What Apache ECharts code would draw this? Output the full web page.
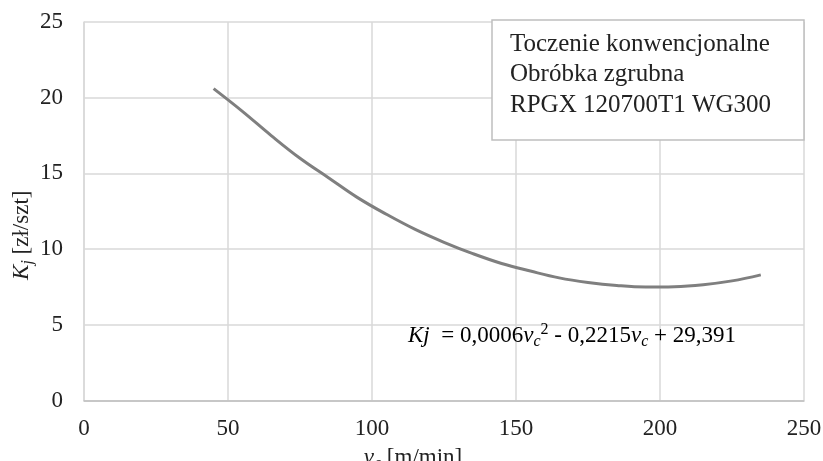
<!DOCTYPE html>
<html>
<head>
<meta charset="utf-8">
<script src="https://cdn.jsdelivr.net/npm/echarts@6/dist/echarts.min.js"></script>
<style>html,body{margin:0;padding:0;background:#fff}#c{width:823px;height:461px}</style>
</head>
<body>
<div id="c"></div>
<script>
const vc = [45, 55, 65, 75, 85, 95, 105, 115, 125, 135, 145, 155, 165, 175, 185, 195, 205, 215, 225, 235];
const kj = [20.6, 19.1, 17.5, 16.0, 14.7, 13.4, 12.3, 11.3, 10.45, 9.7, 9.05, 8.55, 8.1, 7.8, 7.6, 7.5, 7.52, 7.65, 7.9, 8.3];
const xTicks = [0, 50, 100, 150, 200, 250];
const yTicks = [0, 5, 10, 15, 20, 25];
const legendLines = ['Toczenie konwencjonalne', 'Obróbka zgrubna', 'RPGX 120700T1 WG300'];

const FONT = 'Liberation Serif';
const chart = echarts.init(document.getElementById('c'), null, {renderer: 'canvas'});
const data = vc.map((v, i) => [v, kj[i]]);
chart.setOption({
  animation: false,
  backgroundColor: '#fff',
  textStyle: {fontFamily: FONT, color: '#222'},
  grid: {left: 84, right: 19, top: 22, bottom: 60.5, containLabel: false, outerBoundsMode: 'none'},
  xAxis: {
    type: 'value', min: xTicks[0], max: xTicks[xTicks.length - 1], interval: 50,
    axisLine: {show: true, lineStyle: {color: '#bfbfbf', width: 1.5}},
    axisTick: {show: false},
    splitLine: {show: true, lineStyle: {color: '#d9d9d9', width: 1.5}},
    axisLabel: {fontFamily: FONT, fontSize: 23, color: '#222', margin: 17},
    name: '{i|v}{sub|c} [m/min]',
    nameLocation: 'middle', nameGap: 43, nameMoveOverlap: false,
    nameTextStyle: {
      fontFamily: FONT, fontSize: 23, color: '#222', padding: [0, 62, 0, 0],
      rich: {
        i: {fontFamily: FONT, fontStyle: 'italic', fontSize: 23, color: '#222'},
        sub: {fontFamily: FONT, fontStyle: 'italic', fontSize: 16, color: '#222', padding: [12, 0, 0, 0]}
      }
    }
  },
  yAxis: {
    type: 'value', min: yTicks[0], max: yTicks[yTicks.length - 1], interval: 5,
    axisLine: {show: true, lineStyle: {color: '#d9d9d9', width: 1.5}},
    axisTick: {show: false},
    splitLine: {show: true, lineStyle: {color: '#d9d9d9', width: 1.5}},
    axisLabel: {fontFamily: FONT, fontSize: 23, color: '#222', margin: 21},
    name: '{i|K}{sub|j} [zł/szt]',
    nameLocation: 'middle', nameGap: 48, nameRotate: 90, nameMoveOverlap: false,
    nameTextStyle: {
      fontFamily: FONT, fontSize: 23, color: '#222', padding: [0, 48, 0, 0],
      rich: {
        i: {fontFamily: FONT, fontStyle: 'italic', fontSize: 23, color: '#222'},
        sub: {fontFamily: FONT, fontStyle: 'italic', fontSize: 16, color: '#222', padding: [12, 0, 0, 0]}
      }
    }
  },
  series: [{
    type: 'line', data: data, smooth: 0.4, showSymbol: false, symbol: 'none',
    lineStyle: {color: '#7f7f7f', width: 3}
  }],
  graphic: [
    {
      type: 'rect', shape: {x: 492, y: 20, width: 312, height: 120},
      style: {fill: '#fff', stroke: '#bfbfbf', lineWidth: 1.5}, z: 100
    },
    {
      type: 'text', left: 510, top: 29, z: 101,
      style: {text: legendLines.join('\n'), font: '25px "' + FONT + '"', fill: '#222', lineHeight: 30.5}
    },
    {
      type: 'text', left: 408, top: 322, z: 101,
      style: {
        text: '{i|Kj}{n|  = 0,0006}{i|v}{sub|c}{sup|2}{n| - 0,2215}{i|v}{sub|c}{n| + 29,391}',
        rich: {
          i: {fontFamily: FONT, fontStyle: 'italic', fontSize: 23, color: '#222'},
          n: {fontFamily: FONT, fontSize: 23, color: '#222'},
          sub: {fontFamily: FONT, fontStyle: 'italic', fontSize: 16, color: '#222', padding: [12, 0, 0, 0]},
          sup: {fontFamily: FONT, fontSize: 16, color: '#222', padding: [0, 0, 12, 0]}
        }
      }
    }
  ]
});
</script>
</body>
</html>
